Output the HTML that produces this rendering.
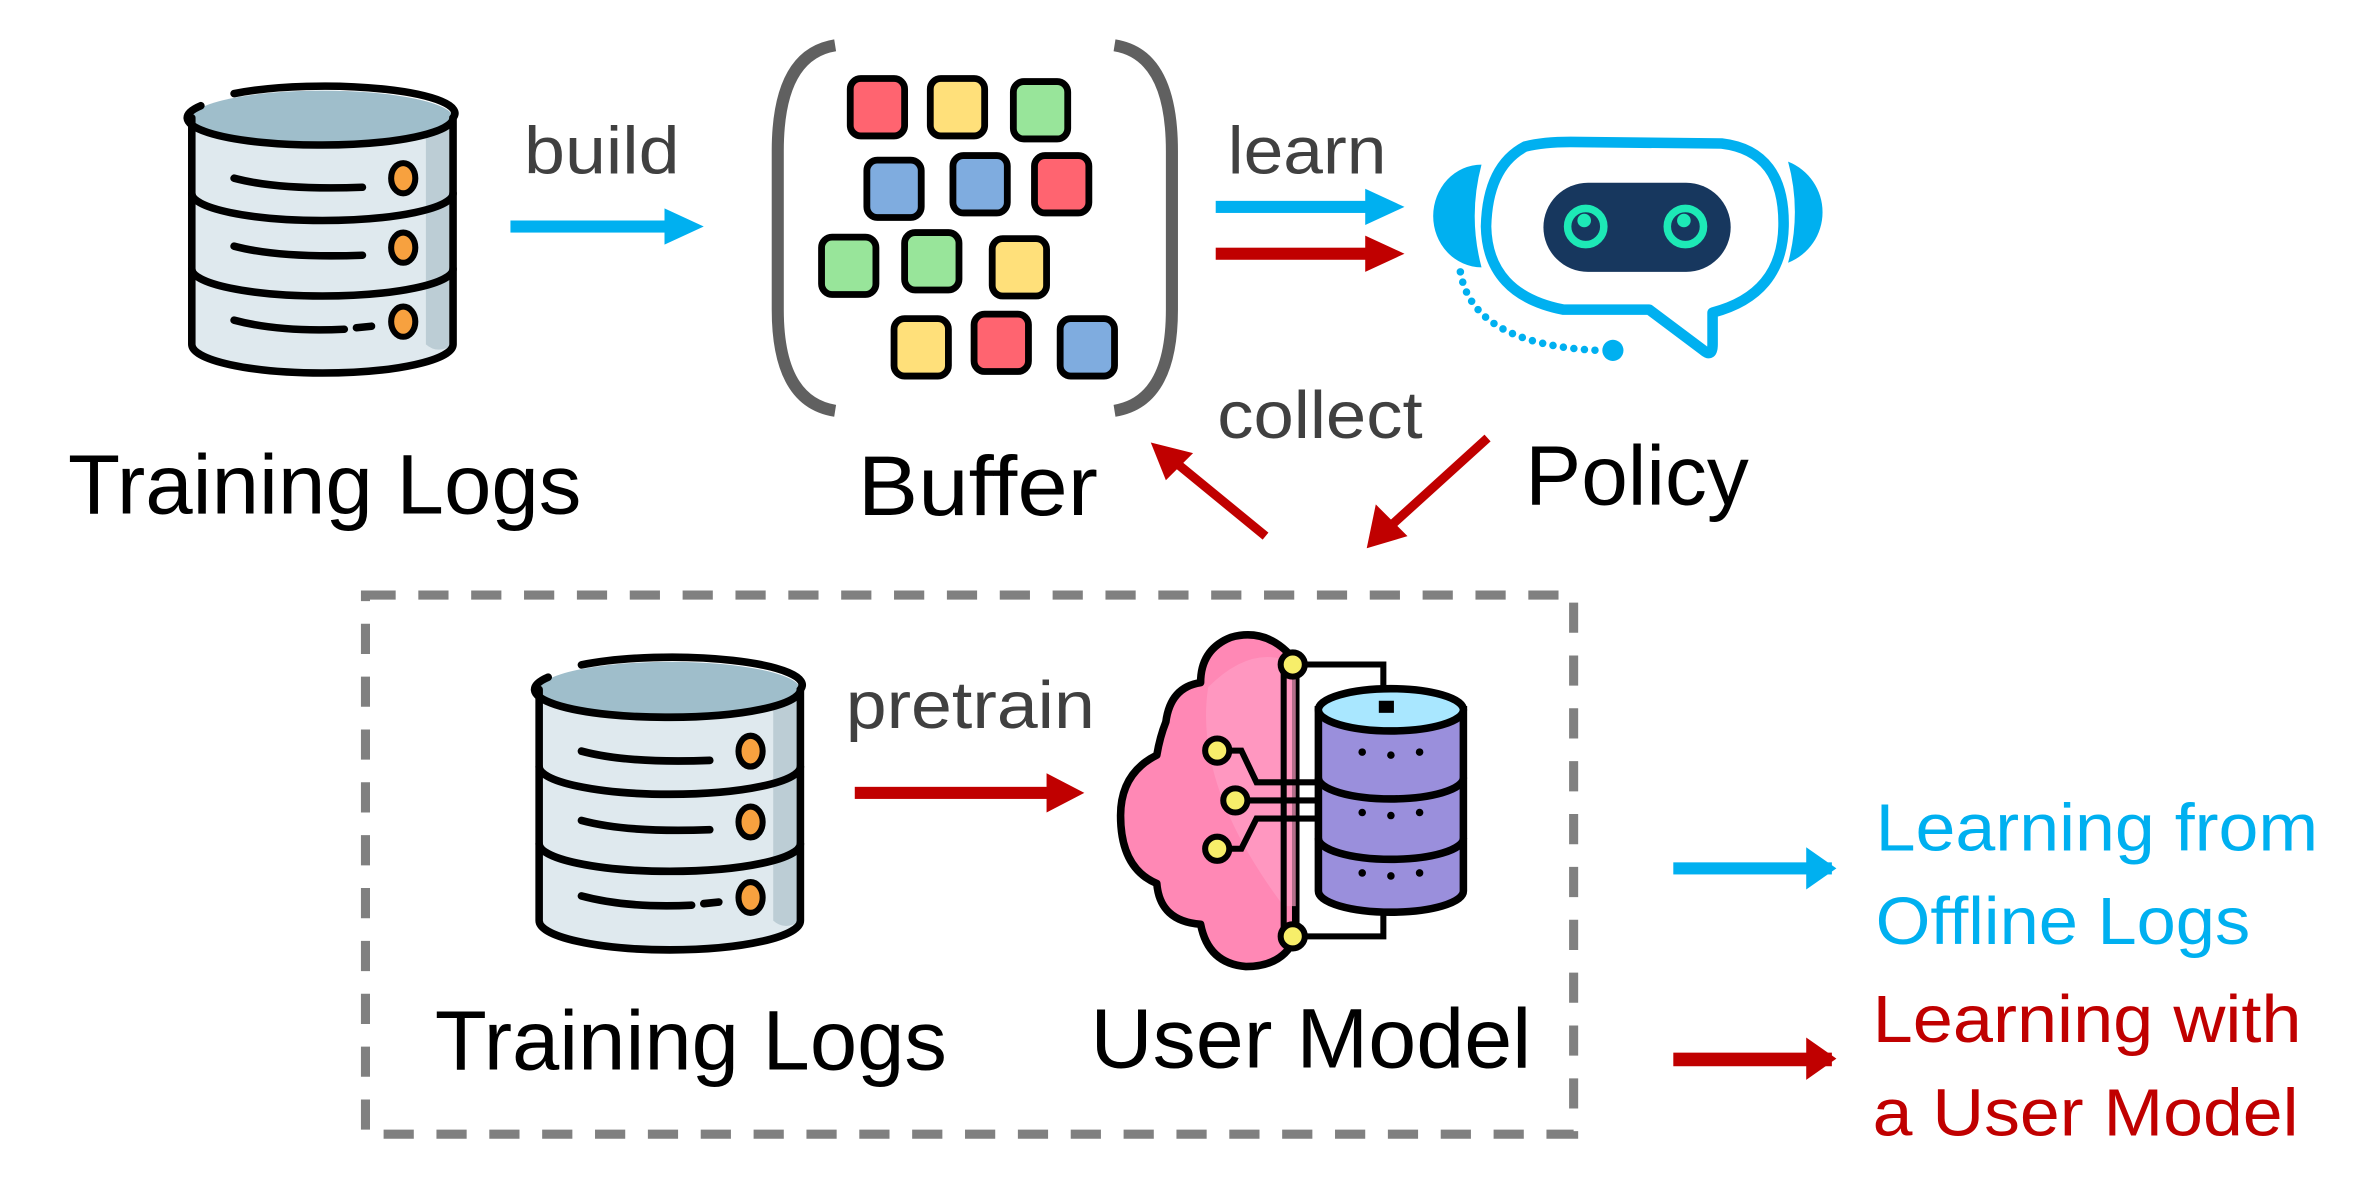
<!DOCTYPE html>
<html><head><meta charset="utf-8"><style>html,body{margin:0;padding:0;background:#fff;overflow:hidden}svg{display:block}</style></head><body>
<svg width="2368" height="1186" viewBox="0 0 1568 785.3" preserveAspectRatio="none" xmlns="http://www.w3.org/2000/svg" font-family="'Liberation Sans', sans-serif">
<defs>
<g id="db">
  <path d="M127 78 L127 228 A86.5 19 0 0 0 300 228 L300 78 Z" fill="#dfe9ee"/>
  <path d="M282 85 L282 228 Q290 235 300 228 L300 78 Z" fill="#bccdd5"/>
  <ellipse cx="213.5" cy="78" rx="86.5" ry="18" fill="#9fbecb"/>
  <g fill="none" stroke="#000" stroke-width="5" stroke-linecap="round">
    <path d="M127 78 L127 228 A86.5 19 0 0 0 300 228 L300 78"/>
    <path d="M133 70 A86.5 18 0 0 0 213.5 96 A86.5 18 0 0 0 300 78 A86.5 18 0 0 0 155 62"/>
    <path d="M127 128 A86.5 18 0 0 0 300 128"/>
    <path d="M127 178 A86.5 18 0 0 0 300 178"/>
    <path d="M155 118 Q185 126 240 124"/>
    <path d="M155 163 Q185 171 240 169"/>
    <path d="M155 212 Q185 220 228 218"/><path d="M236 217 L246 216"/>
  </g>
  <g fill="#f7a13f" stroke="#000" stroke-width="4">
    <ellipse cx="267" cy="118" rx="8" ry="10"/><ellipse cx="267" cy="164" rx="8" ry="10"/><ellipse cx="267" cy="213" rx="8" ry="10"/>
  </g>
</g>
</defs>

<use href="#db"/>
<use href="#db" transform="translate(230 377) scale(1 1.02)"/>

<!-- build arrow -->
<rect x="338" y="146" width="105" height="8" fill="#00b0f0"/>
<polygon points="440,138 466,150 440,162" fill="#00b0f0"/>
<text x="347" y="115" font-size="44" fill="#404040" textLength="103" lengthAdjust="spacingAndGlyphs">build</text>

<!-- buffer brackets -->
<g fill="none" stroke="#606060" stroke-width="8">
  <path d="M553 30 Q515 36 515 100 L515 205 Q515 266 553 272"/>
  <path d="M738 30 Q776 36 776 100 L776 205 Q776 266 738 272"/>
</g>
<g stroke="#000" stroke-width="4.5">
  <rect x="563" y="52" width="36" height="38" rx="7" fill="#ff6470"/>
  <rect x="616" y="52" width="36" height="38" rx="7" fill="#ffe07a"/>
  <rect x="671" y="54" width="36" height="38" rx="7" fill="#98e59a"/>
  <rect x="574" y="106" width="36" height="38" rx="7" fill="#7facdf"/>
  <rect x="631" y="103" width="36" height="38" rx="7" fill="#7facdf"/>
  <rect x="685" y="103" width="36" height="38" rx="7" fill="#ff6470"/>
  <rect x="544" y="157" width="36" height="38" rx="7" fill="#98e59a"/>
  <rect x="599" y="154" width="36" height="38" rx="7" fill="#98e59a"/>
  <rect x="657" y="158" width="36" height="38" rx="7" fill="#ffe07a"/>
  <rect x="592" y="211" width="36" height="38" rx="7" fill="#ffe07a"/>
  <rect x="645" y="208" width="36" height="38" rx="7" fill="#ff6470"/>
  <rect x="702" y="211" width="36" height="38" rx="7" fill="#7facdf"/>
</g>

<!-- learn arrows -->
<text x="813" y="115" font-size="44" fill="#404040" textLength="105" lengthAdjust="spacingAndGlyphs">learn</text>
<rect x="805" y="133" width="102" height="8" fill="#00b0f0"/>
<polygon points="904,125 930,137 904,149" fill="#00b0f0"/>
<rect x="805" y="164" width="102" height="8" fill="#c00000"/>
<polygon points="904,156 930,168 904,180" fill="#c00000"/>

<!-- robot -->
<path d="M981 109 A32 34 0 0 0 981 177 Q972 143 981 109 Z" fill="#00b0f0"/>
<path d="M1184 107 A36 36 0 0 1 1184 174 Q1193 140 1184 107 Z" fill="#00b0f0"/>
<path d="M1010 97 Q985 110 984 150 Q985 195 1035 205 L1092 205 L1128 232 Q1134 237 1134 228 L1134 207 Q1180 195 1181 150 Q1182 100 1140 95 L1040 94 Q1022 94 1010 97 Z" fill="#fff" stroke="#00b0f0" stroke-width="7" stroke-linejoin="round"/>
<rect x="1022" y="121" width="124" height="59" rx="29.5" fill="#17375e"/>
<g fill="none" stroke="#1de9b6" stroke-width="5"><circle cx="1050" cy="150" r="12"/><circle cx="1116" cy="150" r="12"/></g>
<circle cx="1049" cy="146" r="4.5" fill="#1de9b6"/><circle cx="1115" cy="146" r="4.5" fill="#1de9b6"/>
<path d="M967 180 Q975 228 1058 232" fill="none" stroke="#00b0f0" stroke-width="5" stroke-dasharray="0 7" stroke-linecap="round"/>
<circle cx="1068" cy="232" r="7" fill="#00b0f0"/>

<!-- labels -->
<text x="45" y="340" font-size="56" fill="#000" textLength="340" lengthAdjust="spacingAndGlyphs">Training Logs</text>
<text x="568" y="341" font-size="56" fill="#000" textLength="159" lengthAdjust="spacingAndGlyphs">Buffer</text>
<text x="1010" y="334" font-size="56" fill="#000" textLength="148" lengthAdjust="spacingAndGlyphs">Policy</text>
<text x="806" y="290" font-size="44" fill="#404040" textLength="136" lengthAdjust="spacingAndGlyphs">collect</text>

<!-- red diagonal arrows -->
<line x1="838" y1="355" x2="777" y2="305" stroke="#c00000" stroke-width="6"/>
<polygon points="762,293 790,300 772,318" fill="#c00000"/>
<line x1="985" y1="290" x2="920" y2="349" stroke="#c00000" stroke-width="6"/>
<polygon points="905,363 911,334 932,355" fill="#c00000"/>

<!-- dashed box -->
<rect x="242" y="394" width="800" height="357" fill="none" stroke="#808080" stroke-width="6" stroke-dasharray="20 15"/>

<!-- pretrain -->
<text x="560" y="482" font-size="44" fill="#404040" textLength="165" lengthAdjust="spacingAndGlyphs">pretrain</text>
<rect x="566" y="521" width="130" height="8" fill="#c00000"/>
<polygon points="693,512 718,525 693,538" fill="#c00000"/>

<!-- user model icon -->
<path d="M858 438 Q840 415 815 422 Q795 430 795 452 Q775 455 772 478 Q768 488 766 500 Q742 512 742 540 Q742 575 766 585 Q768 610 795 612 Q800 638 825 640 Q850 640 858 620 Z" fill="#ff88b5" stroke="#000" stroke-width="5" stroke-linejoin="round"/>
<path d="M800 455 Q790 520 850 600 L858 600 L858 440 Q830 425 800 455 Z" fill="#ff9ec4" opacity="0.7"/>
<g fill="none" stroke="#000" stroke-width="4">
  <path d="M858 440 L916 440 L916 468"/>
  <path d="M858 620 L916 620 L916 600"/>
  <path d="M850 445 L850 615"/>
  <path d="M812 497 L822 497 L832 518 L873 518"/>
  <path d="M818 530 L873 530"/>
  <path d="M812 562 L822 562 L832 542 L873 542"/>
</g>
<path d="M873 470 L873 590 A48 14 0 0 0 969 590 L969 470 Z" fill="#9a8fdc" stroke="#000" stroke-width="5"/>
<path d="M873 515 A48 14 0 0 0 969 515" fill="none" stroke="#000" stroke-width="5"/>
<path d="M873 555 A48 14 0 0 0 969 555" fill="none" stroke="#000" stroke-width="5"/>
<ellipse cx="921" cy="470" rx="48" ry="14" fill="#a9e7ff" stroke="#000" stroke-width="5"/>
<rect x="913" y="464" width="10" height="8" fill="#000"/>
<g fill="#000"><circle cx="902" cy="498" r="2.5"/><circle cx="921" cy="500" r="2.5"/><circle cx="940" cy="498" r="2.5"/>
<circle cx="902" cy="538" r="2.5"/><circle cx="921" cy="540" r="2.5"/><circle cx="940" cy="538" r="2.5"/>
<circle cx="902" cy="578" r="2.5"/><circle cx="921" cy="580" r="2.5"/><circle cx="940" cy="578" r="2.5"/></g>
<g fill="#f7ee6a" stroke="#000" stroke-width="4">
  <circle cx="856" cy="440" r="8"/><circle cx="856" cy="620" r="8"/>
  <circle cx="806" cy="497" r="8"/><circle cx="818" cy="530" r="8"/><circle cx="806" cy="562" r="8"/>
</g>

<text x="288" y="708" font-size="56" fill="#000" textLength="339" lengthAdjust="spacingAndGlyphs">Training Logs</text>
<text x="722" y="707" font-size="56" fill="#000" textLength="292" lengthAdjust="spacingAndGlyphs">User Model</text>

<!-- legend -->
<rect x="1108" y="571" width="105" height="8" fill="#00b0f0"/>
<polygon points="1196,561 1216,575 1196,589" fill="#00b0f0"/>
<rect x="1108" y="697" width="105" height="9" fill="#c00000"/>
<polygon points="1196,687 1216,701 1196,715" fill="#c00000"/>
<text x="1242" y="563" font-size="44" fill="#00b0f0" textLength="293" lengthAdjust="spacingAndGlyphs">Learning from</text>
<text x="1242" y="625" font-size="44" fill="#00b0f0" textLength="248" lengthAdjust="spacingAndGlyphs">Offline Logs</text>
<text x="1240" y="690" font-size="44" fill="#c00000" textLength="284" lengthAdjust="spacingAndGlyphs">Learning with</text>
<text x="1240" y="752" font-size="44" fill="#c00000" textLength="282" lengthAdjust="spacingAndGlyphs">a User Model</text>
</svg>
</body></html>
